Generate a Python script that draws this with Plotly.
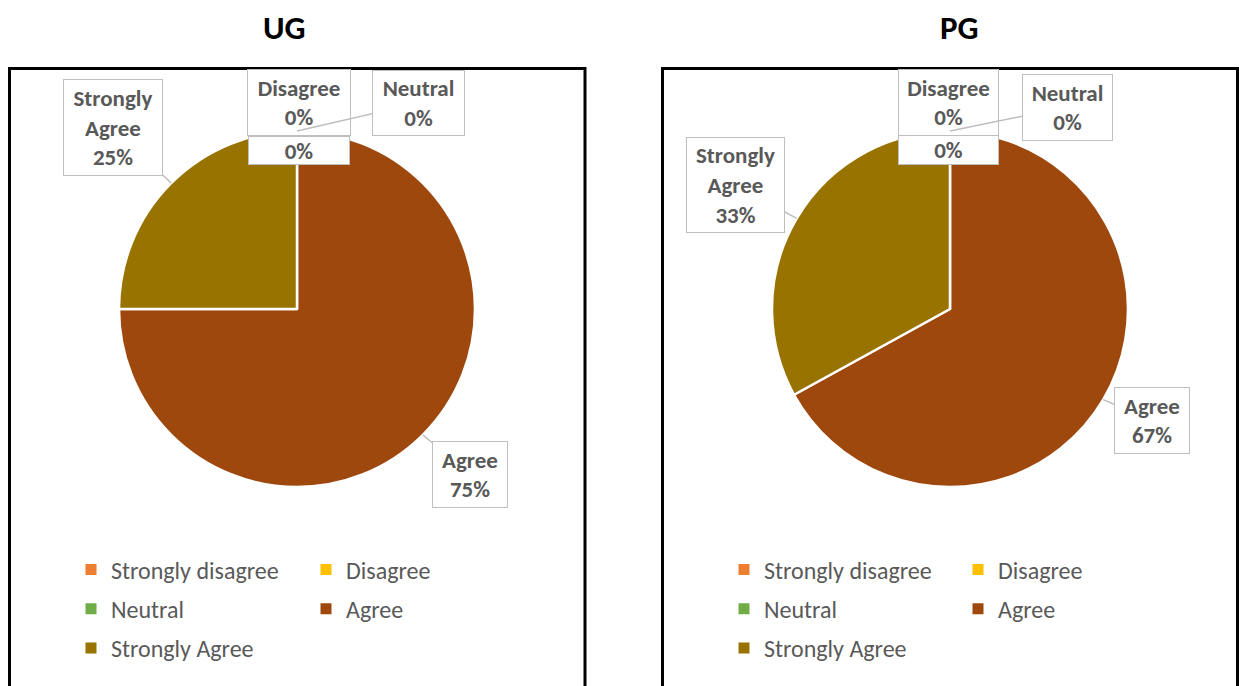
import math
import plotly.graph_objects as go

# ---------------- data ----------------
categories = ["Strongly disagree", "Disagree", "Neutral", "Agree", "Strongly Agree"]
ug_values = [0, 0, 0, 75, 25]
pg_values = [0, 0, 0, 67, 33]
callout_names = ["", "Disagree", "Neutral", "Agree", "Strongly<br>Agree"]
colors = ["#ED7D31", "#FFC000", "#70AD47", "#9E480E", "#997300"]
panel_titles = ["UG", "PG"]

# ---------------- layout constants (pixels) ----------------
W, H = 1239, 686
FONT = "Calibri, Carlito, Lato, sans-serif"
TXT = "#595959"

def px(x):
    return x / W

def py(y):
    return 1 - y / H

panels = [
    dict(values=ug_values, title=panel_titles[0], title_xy=(284, 28),
         center=(297, 309), r=178, frame=(9.5, 68.5, 585, 700),
         boxes={  # cx, cy, w, h
             0: (299, 150.5, 102, 29),
             1: (299, 102.5, 104, 67),
             2: (418, 103, 93, 66),
             3: (470, 474.5, 76, 67),
             4: (113, 127, 100, 97)},
         legend_x=(71, 306)),
    dict(values=pg_values, title=panel_titles[1], title_xy=(959, 28),
         center=(950, 309), r=178, frame=(662.5, 68.5, 1237.5, 700),
         boxes={
             0: (948, 150.5, 101, 30),
             1: (948, 102.5, 101, 67),
             2: (1067, 107, 91, 67),
             3: (1152, 420.5, 76, 67),
             4: (735, 185, 99, 96)},
         legend_x=(724, 958)),
]

fig = go.Figure()
shapes = []
annotations = []

for p_i, p in enumerate(panels):
    cx, cy = p["center"]
    r = p["r"]
    fig.add_trace(go.Pie(
        labels=categories, values=p["values"], sort=False,
        direction="clockwise", rotation=0,
        marker=dict(colors=colors, line=dict(color="white", width=2.5)),
        textinfo="none", hoverinfo="label+percent", showlegend=False,
        domain=dict(x=[px(cx - r), px(cx + r)], y=[py(cy + r), py(cy - r)]),
    ))

    # frame
    x0, y0, x1, y1 = p["frame"]
    shapes.append(dict(type="rect", xref="paper", yref="paper",
                       x0=px(x0), x1=px(x1), y0=py(y1), y1=py(y0),
                       line=dict(color="black", width=3), layer="below"))
    # title
    tx, ty = p["title_xy"]
    annotations.append(dict(text=f"<b>{p['title']}</b>", x=px(tx), y=py(ty),
                            xref="paper", yref="paper", showarrow=False,
                            font=dict(family=FONT, size=33, color="black"),
                            xanchor="center", yanchor="middle"))

    total = sum(p["values"])
    cum = 0
    for i, v in enumerate(p["values"]):
        frac = v / total
        mid = (cum + frac / 2) * 2 * math.pi
        cum += frac
        tipx = cx + r * math.sin(mid)
        tipy = cy - r * math.cos(mid)
        bx, by, bw, bh = p["boxes"][i]
        nx = min(max(tipx, bx - bw / 2), bx + bw / 2)
        ny = min(max(tipy, by - bh / 2), by + bh / 2)
        has_arrow = math.hypot(tipx - nx, tipy - ny) > 8
        name = callout_names[i]
        pct = f"{round(frac * 100)}%"
        label = f"<b>{name}<br>{pct}</b>" if name else f"<b>{pct}</b>"
        ann = dict(text=label, xref="paper", yref="paper",
                   xanchor="center", yanchor="middle",
                   width=bw - 6, height=bh - 6, borderpad=2,
                   bordercolor="#BFBFBF", borderwidth=1, bgcolor="white",
                   align="center", valign="middle",
                   font=dict(family=FONT, size=23, color=TXT))
        if has_arrow:
            ann.update(x=px(tipx), y=py(tipy), showarrow=True,
                       ax=bx - tipx, ay=by - tipy, arrowhead=0,
                       arrowwidth=1.5, arrowcolor="#BFBFBF", standoff=0)
        else:
            ann.update(x=px(bx), y=py(by), showarrow=False)
        annotations.append(ann)

# ---------------- legends (two columns per panel) ----------------
col_members = [[0, 2, 4], [1, 3]]
legend_names = ["legend", "legend2", "legend3", "legend4"]
leg_layout = {}
k = 0
for p_i, p in enumerate(panels):
    for c_i, members in enumerate(col_members):
        lname = legend_names[k]
        for m in members:
            fig.add_trace(go.Scatter(
                x=[None], y=[None], mode="markers", name=categories[m],
                marker=dict(symbol="square", size=11, color=colors[m], line=dict(width=0)),
                legend=lname, legendgroup=f"{lname}_{m}", hoverinfo="skip"))
        leg_layout[lname] = dict(
            x=px(p["legend_x"][c_i]), y=py(547.5), xanchor="left", yanchor="top",
            orientation="v", bgcolor="rgba(0,0,0,0)", borderwidth=0,
            tracegroupgap=5, traceorder="grouped",
            font=dict(family=FONT, size=24, color=TXT))
        k += 1

fig.update_layout(
    width=W, height=H, margin=dict(l=0, r=0, t=0, b=0),
    paper_bgcolor="white", plot_bgcolor="white",
    xaxis=dict(visible=False), yaxis=dict(visible=False),
    shapes=shapes, annotations=annotations,
    **leg_layout,
)

fig.write_html("out.html", config={"displayModeBar": False},
               post_script="document.body.style.margin='0';document.body.style.padding='0';")
